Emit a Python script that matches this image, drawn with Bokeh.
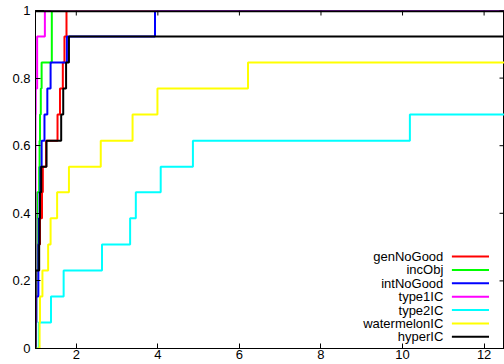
from bokeh.plotting import figure
from bokeh.models import Range1d, FixedTicker, Span
from bokeh.embed import file_html
from bokeh.resources import INLINE
from bokeh.core.properties import value

# ---- data (performance-profile ratios) ----
series_names = ["genNoGood", "incObj", "intNoGood", "type1IC", "type2IC", "watermelonIC", "hyperIC"]
series_colors = ["#ff0000", "#00ff00", "#0000ff", "#ff00ff", "#00ffff", "#ffff00", "#000000"]

levels = [0.077, 0.154, 0.231, 0.308, 0.385, 0.462, 0.538, 0.615, 0.692, 0.769, 0.846, 0.923, 1.0]

genNoGood = [1.00, 1.01, 1.02, 1.05, 1.11, 1.16, 1.18, 1.26, 1.54, 1.60, 1.67, 1.71, 1.76]
incObj = [1.01, 1.02, 1.02, 1.03, 1.03, 1.04, 1.09, 1.10, 1.11, 1.13, 1.15, 1.40, 1.40]
intNoGood = [1.00, 1.02, 1.07, 1.07, 1.08, 1.10, 1.12, 1.15, 1.22, 1.29, 1.37, 1.77, 3.93]
type1IC = [1.00, 1.00, 1.00, 1.00, 1.00, 1.00, 1.00, 1.00, 1.00, 1.005, 1.04, 1.04, 1.23]
type2IC = [1.08, 1.38, 1.69, 2.63, 3.32, 3.46, 4.07, 4.86, 10.18]
watermelonIC = [1.10, 1.11, 1.17, 1.31, 1.37, 1.53, 1.82, 2.60, 3.38, 3.99, 6.21]
hyperIC = [1.00, 1.00, 1.00, 1.09, 1.10, 1.11, 1.14, 1.27, 1.63, 1.68, 1.75, 1.82]

all_series = [genNoGood, incObj, intNoGood, type1IC, type2IC, watermelonIC, hyperIC]

x_ticks = [2, 4, 6, 8, 10, 12]
y_ticks = [0, 0.2, 0.4, 0.6, 0.8, 1]
y_tick_labels = ["0", "0.2", "0.4", "0.6", "0.8", "1"]

X_MIN, X_MAX = 1, 12.5
Y_MIN, Y_MAX = 0, 1
FONT = "Liberation Sans"

W, H = 504, 364
B_LEFT, B_RIGHT, B_TOP, B_BOTTOM = 35, 0, 10, 16

p = figure(width=W, height=H, x_range=Range1d(X_MIN, X_MAX), y_range=Range1d(Y_MIN, Y_MAX),
           output_backend="svg", toolbar_location=None,
           min_border_left=B_LEFT, min_border_right=B_RIGHT,
           min_border_top=B_TOP, min_border_bottom=B_BOTTOM)
p.background_fill_color = "white"
p.border_fill_color = "white"
p.outline_line_color = "black"
p.outline_line_width = 1
p.xgrid.visible = False
p.ygrid.visible = False

for ax in (p.xaxis[0], p.yaxis[0]):
    ax.axis_line_color = "black"
    ax.major_tick_line_color = "black"
    ax.major_tick_in = 5
    ax.major_tick_out = 0
    ax.minor_tick_line_color = None
    ax.major_label_text_font = FONT
    ax.major_label_text_font_size = "13px"
    ax.major_label_text_color = "black"

p.xaxis.ticker = FixedTicker(ticks=x_ticks)
p.yaxis.ticker = FixedTicker(ticks=y_ticks)
p.yaxis.major_label_overrides = {t: s for t, s in zip(y_ticks, y_tick_labels)}
p.xaxis.major_label_standoff = 1
p.yaxis.major_label_standoff = 5

# mirrored inward ticks on the top and right edges (gnuplot style), length 5 px
frame_w = W - B_LEFT - B_RIGHT
frame_h = H - B_TOP - B_BOTTOM
tick_dx = 5 * (X_MAX - X_MIN) / frame_w
tick_dy = 5 * (Y_MAX - Y_MIN) / frame_h

# ---- step curves ----
for name, color, taus in zip(series_names, series_colors, all_series):
    xs = [X_MIN] + list(taus) + [X_MAX]
    ys = [0] + levels[:len(taus)] + [levels[len(taus) - 1]]
    p.step(xs, ys, mode="after", line_color=color, line_width=2)

# top border drawn over the curves that run along y = 1
p.add_layout(Span(location=Y_MAX, dimension="width", line_color="black", line_width=3.5,
                  level="overlay"))
p.segment(x0=x_ticks, y0=[Y_MAX] * len(x_ticks), x1=x_ticks, y1=[Y_MAX - tick_dy] * len(x_ticks),
          line_color="black", line_width=1)
p.segment(x0=[X_MAX] * len(y_ticks), y0=y_ticks, x1=[X_MAX - tick_dx] * len(y_ticks), y1=y_ticks,
          line_color="black", line_width=1)

# ---- gnuplot-style legend (label left, sample right) ----
leg_text_x = 11.0
leg_line_x0, leg_line_x1 = 11.21, 12.12
leg_top, leg_step = 0.272, 0.0396
leg_ys = [leg_top - i * leg_step for i in range(len(series_names))]
p.text(x=[leg_text_x] * len(series_names), y=leg_ys, text=series_names,
       text_align="right", text_baseline="middle", text_font=value(FONT),
       text_font_size="13px", text_color="black")
p.segment(x0=[leg_line_x0] * len(series_names), y0=leg_ys,
          x1=[leg_line_x1] * len(series_names), y1=leg_ys,
          line_color=series_colors, line_width=2)

open("out.html", "w").write(file_html(p, INLINE))
